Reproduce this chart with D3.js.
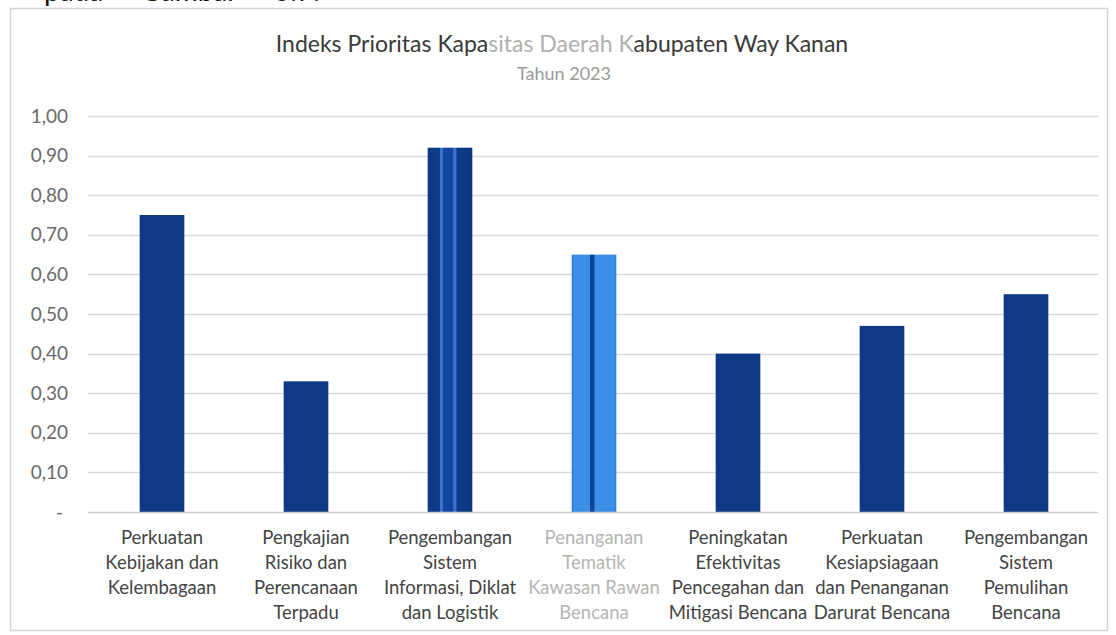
<!DOCTYPE html>
<html>
<head>
<meta charset="utf-8">
<script src="https://cdn.jsdelivr.net/npm/d3@7/dist/d3.min.js"></script>
<style>
  html, body { margin: 0; padding: 0; background: #fff; }
  svg { display: block; }
  text { font-family: Lato, "Open Sans", sans-serif; }
</style>
</head>
<body>
<svg id="chart" width="1116" height="635"></svg>
<script>
// Priority index values for each capacity priority
const categories = [
  "Perkuatan Kebijakan dan Kelembagaan",
  "Pengkajian Risiko dan Perencanaan Terpadu",
  "Pengembangan Sistem Informasi, Diklat dan Logistik",
  "Penanganan Tematik Kawasan Rawan Bencana",
  "Peningkatan Efektivitas Pencegahan dan Mitigasi Bencana",
  "Perkuatan Kesiapsiagaan dan Penanganan Darurat Bencana",
  "Pengembangan Sistem Pemulihan Bencana"
];
const categoryLines = [
  ["Perkuatan", "Kebijakan dan", "Kelembagaan"],
  ["Pengkajian", "Risiko dan", "Perencanaan", "Terpadu"],
  ["Pengembangan", "Sistem", "Informasi, Diklat", "dan Logistik"],
  ["Penanganan", "Tematik", "Kawasan Rawan", "Bencana"],
  ["Peningkatan", "Efektivitas", "Pencegahan dan", "Mitigasi Bencana"],
  ["Perkuatan", "Kesiapsiagaan", "dan Penanganan", "Darurat Bencana"],
  ["Pengembangan", "Sistem", "Pemulihan", "Bencana"]
];
const values = [0.75, 0.33, 0.92, 0.65, 0.40, 0.47, 0.55];
const yTicks = [0, 0.1, 0.2, 0.3, 0.4, 0.5, 0.6, 0.7, 0.8, 0.9, 1.0];
const titleLine1 = "Indeks Prioritas Kapasitas Daerah Kabupaten Way Kanan";
const titleLine2 = "Tahun 2023";

const svg = d3.select("#chart");

// Running text of the page above the figure, cut by the top edge
svg.append("text")
  .attr("x", 44).attr("y", 1)
  .attr("font-family", "'Liberation Serif', serif")
  .attr("font-size", 28)
  .attr("word-spacing", 30)
  .attr("fill", "#111")
  .text("pada Gambar 3.7.");

// Chart frame
svg.append("rect")
  .attr("x", 10.5).attr("y", 8.5)
  .attr("width", 1097).attr("height", 622)
  .attr("fill", "#fff")
  .attr("stroke", "#d4d4d4")
  .attr("stroke-width", 1.5);

const x = d3.scaleBand()
  .domain(categories)
  .range([90, 1098])
  .paddingInner(0.69)
  .paddingOuter(0.345);

const y = d3.scaleLinear()
  .domain([0, 1])
  .range([512, 116]);

// Gridlines
svg.append("g")
  .selectAll("line")
  .data(yTicks.filter(d => d > 0))
  .join("line")
  .attr("x1", 88).attr("x2", 1098)
  .attr("y1", d => Math.round(y(d)) + 0.5)
  .attr("y2", d => Math.round(y(d)) + 0.5)
  .attr("stroke", "#d9d9d9")
  .attr("stroke-width", 1.3);

// Y axis labels
const fmt = d => d === 0 ? "-" : d3.format(".2f")(d).replace(".", ",");
const yAxis = d3.axisLeft(y).tickValues(yTicks).tickFormat(fmt).tickSize(0).tickPadding(0);
const yg = svg.append("g").attr("transform", "translate(68,0)").call(yAxis);
yg.select(".domain").remove();
yg.selectAll("text")
  .attr("font-family", "Lato, 'Open Sans', sans-serif")
  .attr("font-size", 19)
  .attr("fill", "#6a6a6a");
yg.selectAll(".tick").filter(d => d === 0).select("text").attr("dx", -5);

// Striped fills for the third and fourth bars
const defs = svg.append("defs");
const g3 = defs.append("linearGradient").attr("id", "fill3").attr("x1", 0).attr("x2", 1).attr("y1", 0).attr("y2", 0);
[[0, "#0d3680"], [0.27, "#0f3b88"], [0.28, "#3474d2"], [0.34, "#3474d2"], [0.35, "#1446a0"],
 [0.57, "#1446a0"], [0.58, "#3474d2"], [0.64, "#3474d2"], [0.65, "#0f3b88"], [1, "#0d3680"]]
  .forEach(([o, c]) => g3.append("stop").attr("offset", o).attr("stop-color", c));
const g4 = defs.append("linearGradient").attr("id", "fill4").attr("x1", 0).attr("x2", 1).attr("y1", 0).attr("y2", 0);
[[0, "#2f78d0"], [0.06, "#3b8fe8"], [0.4, "#3b8fe8"], [0.42, "#0f4394"], [0.5, "#0f4394"],
 [0.52, "#3b8fe8"], [0.94, "#3b8fe8"], [1, "#2f78d0"]]
  .forEach(([o, c]) => g4.append("stop").attr("offset", o).attr("stop-color", c));
const barFill = i => i === 2 ? "url(#fill3)" : i === 3 ? "url(#fill4)" : "#0e3a85";

// Bars
svg.append("g")
  .selectAll("rect")
  .data(values)
  .join("rect")
  .attr("x", (d, i) => x(categories[i]))
  .attr("width", x.bandwidth())
  .attr("y", d => y(d))
  .attr("height", d => y(0) - y(d))
  .attr("fill", (d, i) => barFill(i));

// Baseline
svg.append("line")
  .attr("x1", 88).attr("x2", 1098)
  .attr("y1", y(0) + 0.5).attr("y2", y(0) + 0.5)
  .attr("stroke", "#cfcfcf")
  .attr("stroke-width", 1.5);

// Category labels
const lab = svg.append("g")
  .selectAll("text")
  .data(categoryLines)
  .join("text")
  .attr("text-anchor", "middle")
  .attr("font-size", 18.5)
  .attr("fill", (d, i) => i === 3 ? "#b4b4b4" : "#444");
lab.each(function(lines, i) {
  const cx = x(categories[i]) + x.bandwidth() / 2;
  d3.select(this).selectAll("tspan")
    .data(lines)
    .join("tspan")
    .attr("x", cx)
    .attr("y", (d, j) => 544 + j * 25)
    .text(d => d);
});

// Title
const t1 = svg.append("text")
  .attr("x", 562).attr("y", 52)
  .attr("text-anchor", "middle")
  .attr("font-size", 23)
  .attr("fill", "#3a3a3a");
const cut1 = titleLine1.indexOf("sitas Daerah K");
t1.append("tspan").text(titleLine1.slice(0, cut1));
t1.append("tspan").attr("fill", "#b0b0b0").text(titleLine1.slice(cut1, cut1 + 14));
t1.append("tspan").text(titleLine1.slice(cut1 + 14));
svg.append("text")
  .attr("x", 564).attr("y", 80)
  .attr("text-anchor", "middle")
  .attr("font-size", 18)
  .attr("fill", "#9a9a9a")
  .text(titleLine2);
</script>
</body>
</html>
